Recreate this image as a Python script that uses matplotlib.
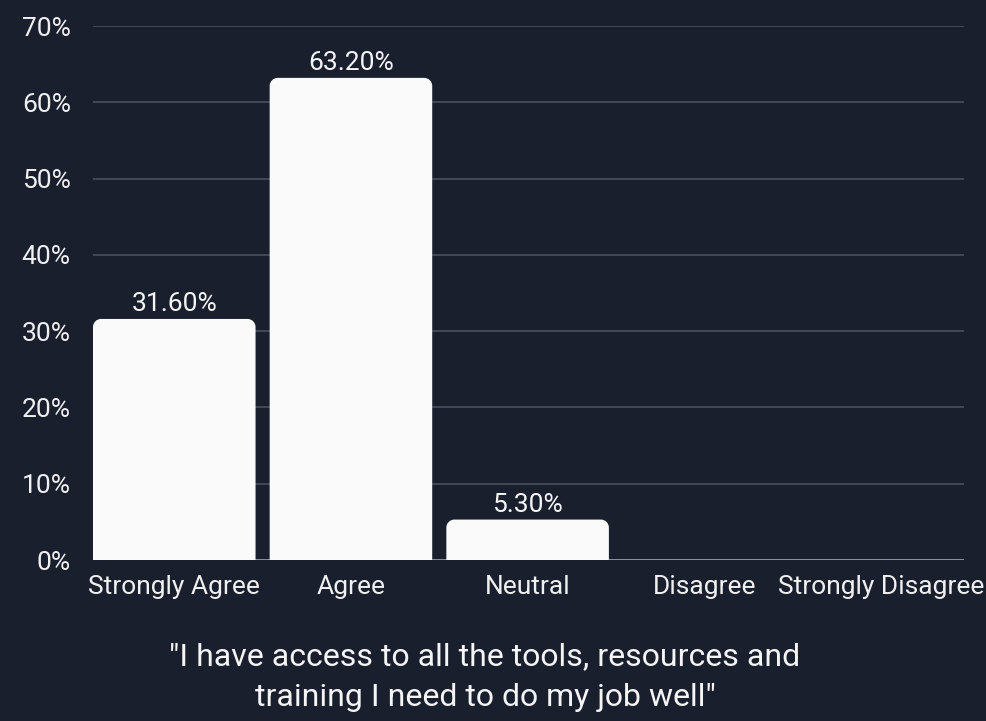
import numpy as np
import matplotlib.pyplot as plt
from matplotlib.path import Path
from matplotlib.patches import PathPatch

categories = ["Strongly Agree", "Agree", "Neutral", "Disagree", "Strongly Disagree"]
values = [31.6, 63.2, 5.3, 0, 0]
value_labels = ["31.60%", "63.20%", "5.30%", "", ""]
y_ticks = [0, 10, 20, 30, 40, 50, 60, 70]

bg = '#1a1f2e'
plt.rcParams['font.family'] = ['Roboto', 'DejaVu Sans']

fig = plt.figure(figsize=(9.87, 7.21), dpi=100, facecolor=bg)
ax = fig.add_axes([93 / 987, 1 - 560 / 721, (964 - 93) / 987, (560 - 26) / 721])
ax.set_facecolor(bg)

x = np.arange(len(categories))
width = 0.92
ax.set_xlim(-0.46, 4.47)
ax.set_ylim(0, 70)

# rayon des coins arrondis, en unités de données (env. 8 px)
rx = 8 / 176.5
ry = 8 / 7.63
k = 0.5523
for xi, v in zip(x, values):
    if v <= 0:
        continue
    x0, x1 = xi - width / 2, xi + width / 2
    verts = [(x0, 0), (x0, v - ry),
             (x0, v - ry + k * ry), (x0 + rx - k * rx, v), (x0 + rx, v),
             (x1 - rx, v),
             (x1 - rx + k * rx, v), (x1, v - ry + k * ry), (x1, v - ry),
             (x1, 0), (x0, 0)]
    codes = [Path.MOVETO, Path.LINETO,
             Path.CURVE4, Path.CURVE4, Path.CURVE4,
             Path.LINETO,
             Path.CURVE4, Path.CURVE4, Path.CURVE4,
             Path.LINETO, Path.CLOSEPOLY]
    ax.add_patch(PathPatch(Path(verts, codes), facecolor='#fafafa', edgecolor='none', zorder=3))

for xi, v, lab in zip(x, values, value_labels):
    if lab:
        ax.annotate(lab, (xi, v), xytext=(0, 2), textcoords='offset points',
                    ha='center', va='bottom', color='#f5f5f5', fontsize=19)

ax.set_yticks(y_ticks)
ax.set_yticklabels([f"{t}%" for t in y_ticks])
ax.set_xticks(x)
ax.set_xticklabels(categories)
ax.tick_params(axis='y', length=0, pad=16, colors='#f0f0f0', labelsize=19)
ax.tick_params(axis='x', length=0, pad=11, colors='#f0f0f0', labelsize=19)
ax.grid(axis='y', color='#4b5060', linewidth=1.2, zorder=1)
for s in ax.spines.values():
    s.set_visible(False)
ax.axhline(0, color='#9a9eaa', linewidth=1.2, zorder=2)

fig.text(485 / 987, 1 - 677 / 721,
         "\"I have access to all the tools, resources and\ntraining I need to do my job well\"",
         ha='center', va='center', color='#f5f5f5', fontsize=23, linespacing=1.55)

fig.savefig('out.png', dpi=100, facecolor=bg)
